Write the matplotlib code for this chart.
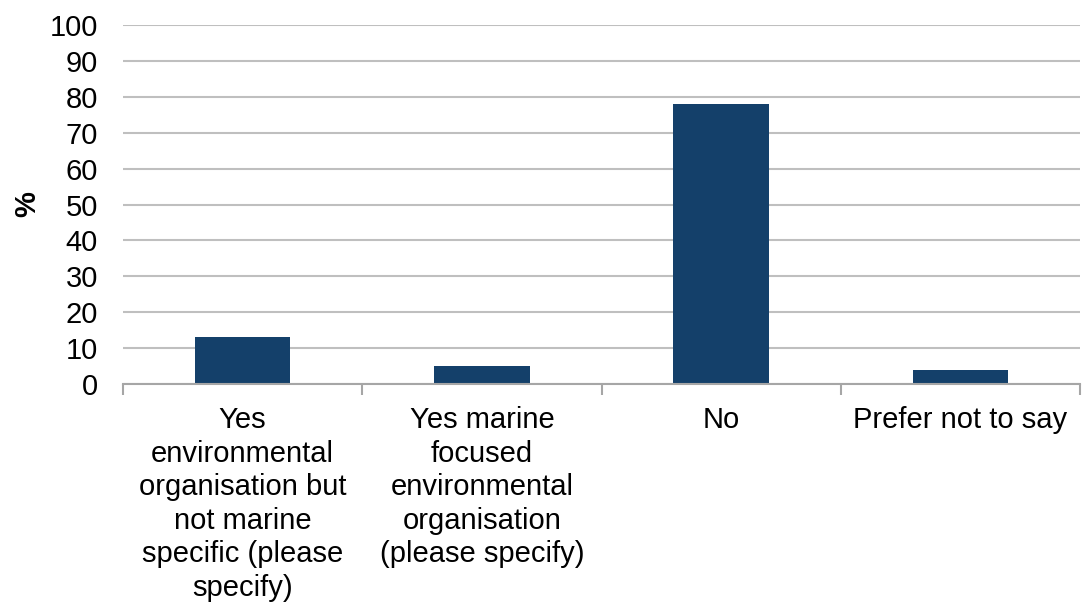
import matplotlib.pyplot as plt
import numpy as np

plt.rcParams['font.family'] = ['Liberation Sans', 'DejaVu Sans']

categories = ['Yes\nenvironmental\norganisation but\nnot marine\nspecific (please\nspecify)',
              'Yes marine\nfocused\nenvironmental\norganisation\n(please specify)',
              'No',
              'Prefer not to say']
values = [13, 5, 78, 4]
yticks = list(range(0, 101, 10))

fig = plt.figure(figsize=(10.82, 6.08), dpi=100)
ax = fig.add_axes([123 / 1082, 1 - 384 / 608, (1080 - 123) / 1082, (384 - 25) / 608])

x = np.arange(len(categories))
ax.bar(x, values, width=0.4, color='#14406A', zorder=3)

ax.set_xlim(-0.5, len(categories) - 0.5)
ax.set_ylim(0, 100)
ax.set_yticks(yticks)
ax.yaxis.grid(True, color='#BFBFBF', linewidth=1.5, zorder=0)

ax.set_xticks(x)
ax.set_xticklabels(categories, fontsize=21, linespacing=1.25)
ax.set_xticks(np.arange(-0.5, len(categories)), minor=True)
ax.tick_params(axis='x', which='major', length=0, pad=16)
ax.tick_params(axis='x', which='minor', length=8, width=1.5, color='#A6A6A6', direction='out')
ax.tick_params(axis='y', length=0, labelsize=21, pad=18)

for side in ['left', 'right', 'top']:
    ax.spines[side].set_visible(False)
ax.spines['bottom'].set_color('#A6A6A6')
ax.spines['bottom'].set_linewidth(1.5)
ax.spines['bottom'].set_zorder(4)

ax.set_ylabel('%', fontsize=21, fontweight='bold')
ax.yaxis.set_label_coords(-0.085, 0.5)

fig.savefig('out.png', dpi=100)
